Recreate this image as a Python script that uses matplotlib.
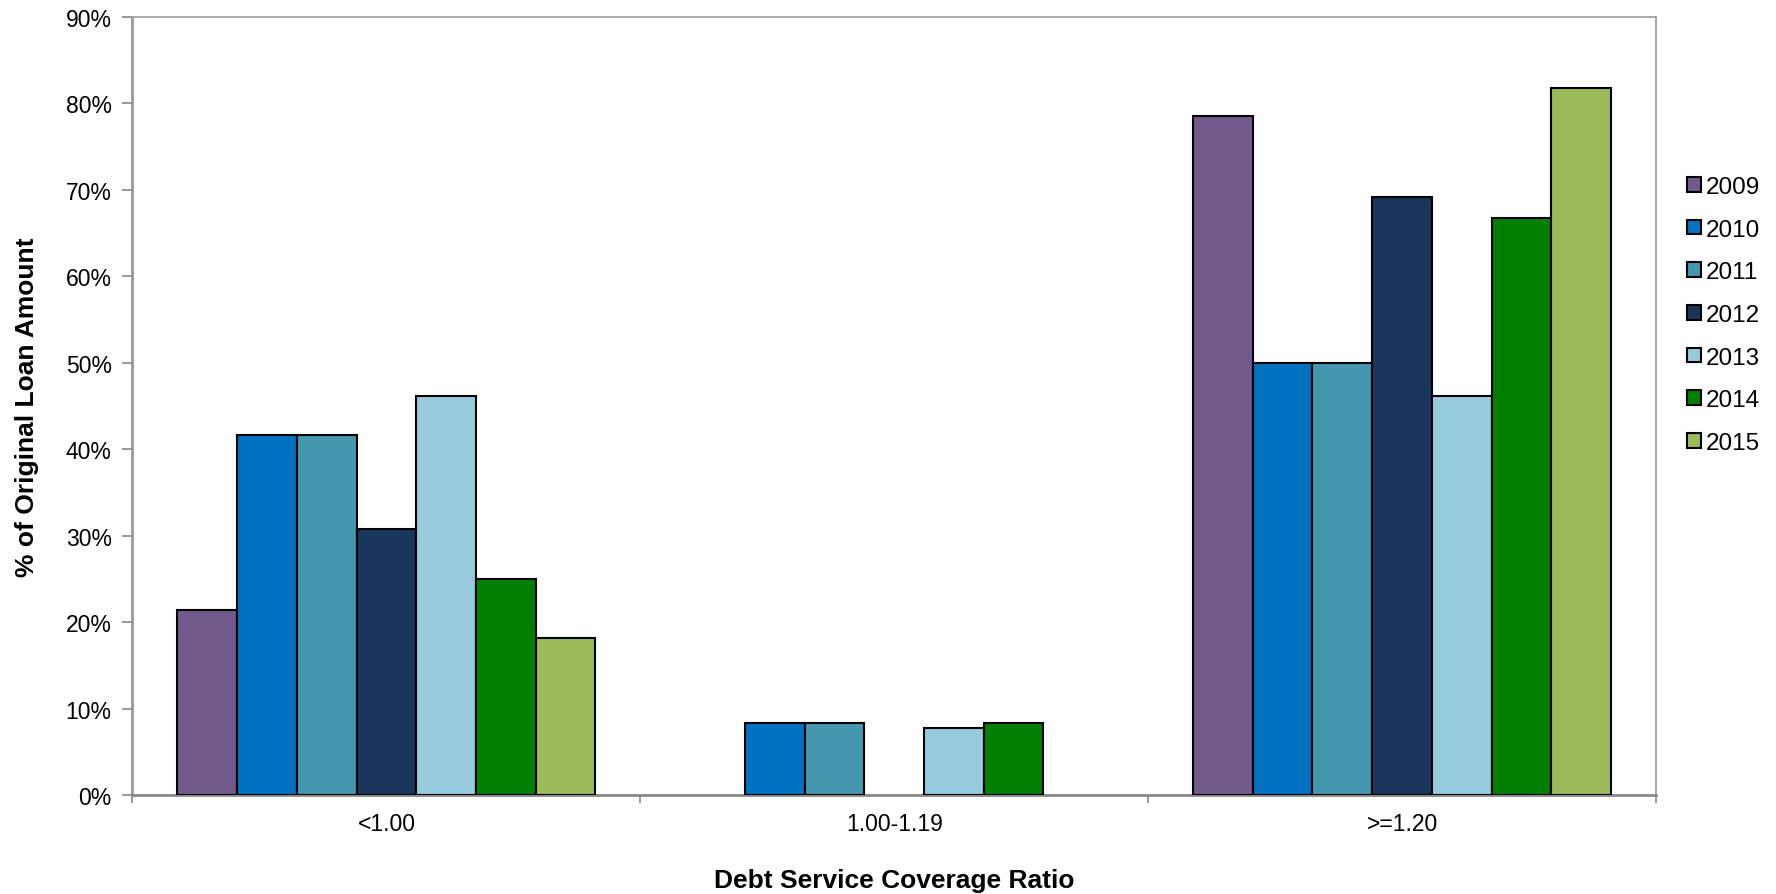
import numpy as np
import matplotlib.pyplot as plt
from matplotlib.ticker import PercentFormatter

plt.rcParams['font.family'] = ['Liberation Sans', 'DejaVu Sans']

categories = ['<1.00', '1.00-1.19', '>=1.20']
years = ['2009', '2010', '2011', '2012', '2013', '2014', '2015']
# % of original loan amount, per year, per DSCR bucket
values = {
    '2009': [21.4, 0.0, 78.6],
    '2010': [41.7, 8.33, 50.0],
    '2011': [41.7, 8.33, 50.0],
    '2012': [30.8, 0.0, 69.2],
    '2013': [46.15, 7.7, 46.15],
    '2014': [25.0, 8.33, 66.7],
    '2015': [18.2, 0.0, 81.8],
}
colors = ['#725A8C', '#0070C0', '#4398B0', '#1A365D', '#95CBDD', '#007F00', '#9BBB59']

fig = plt.figure(figsize=(17.76, 8.95), dpi=100)
ax = fig.add_axes([0.0746, 0.1106, 0.8578, 0.8693])

x = np.arange(len(categories))
n = len(years)
group_w = 0.823
w = group_w / n
for i, yr in enumerate(years):
    vals = np.array(values[yr])
    mask = vals > 0
    ax.bar(x[mask] - group_w / 2 + w * (i + 0.5), vals[mask], width=w,
           color=colors[i], edgecolor='black', linewidth=1.5, label=yr, zorder=3)

ax.set_xlim(-0.5, 2.5)
ax.set_ylim(0, 90)
ax.set_yticks(np.arange(0, 91, 10))
ax.yaxis.set_major_formatter(PercentFormatter(decimals=0))
ax.set_xticks(x)
ax.set_xticklabels(categories)
ax.set_xticks([-0.5, 0.5, 1.5, 2.5], minor=True)
ax.tick_params(axis='x', which='major', length=0, pad=12, labelsize=16.5)
ax.tick_params(axis='x', which='minor', length=6, color='#888888', width=1.2, direction='out')
ax.tick_params(axis='y', length=7, color='#888888', width=1.2, direction='out', labelsize=16.5, pad=8)

for s in ax.spines.values():
    s.set_color('#999999')
    s.set_linewidth(1.2)
ax.spines['left'].set_linewidth(2)
ax.spines['bottom'].set_color('#888888')
ax.spines['bottom'].set_linewidth(2)

ax.set_ylabel('% of Original Loan Amount', fontsize=19, fontweight='bold', labelpad=19)
ax.set_xlabel('Debt Service Coverage Ratio', fontsize=19, fontweight='bold', labelpad=24)

fig.legend(loc='upper left', bbox_to_anchor=(0.9445, 0.813), frameon=False,
           fontsize=17.5, handlelength=0.55, handleheight=0.55, handletextpad=0.2,
           labelspacing=0.85, borderaxespad=0)

fig.savefig('out.png', dpi=100)
